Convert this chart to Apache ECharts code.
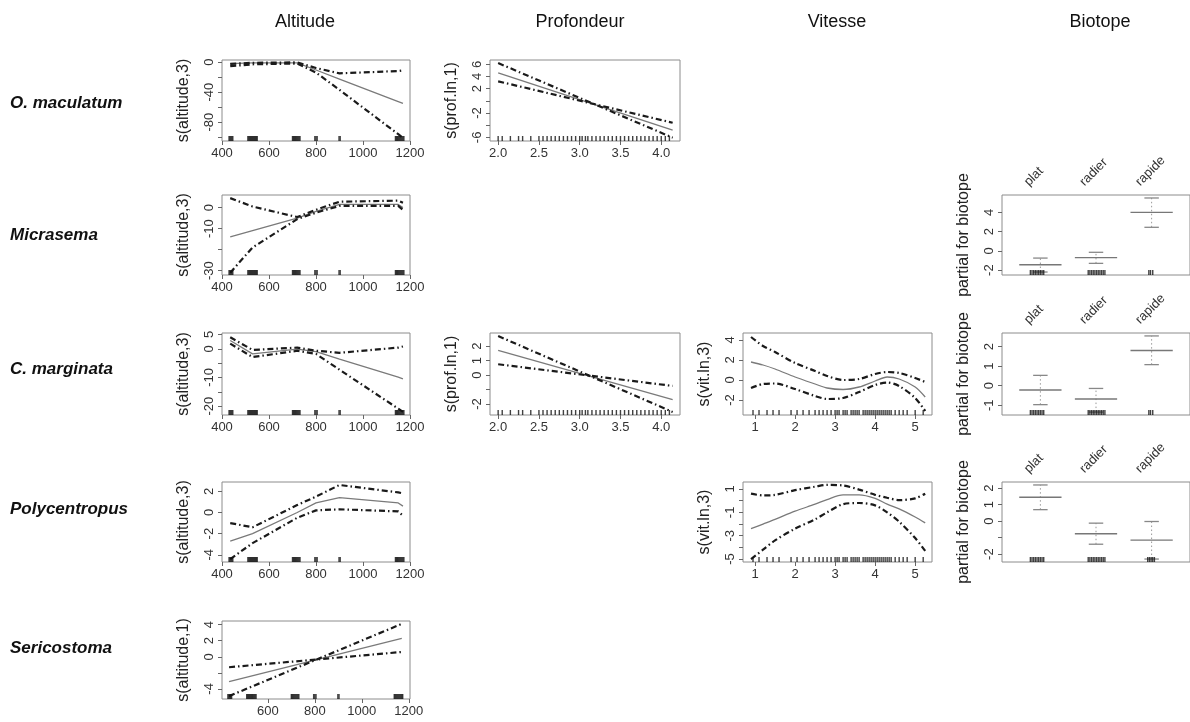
<!DOCTYPE html>
<html><head><meta charset="utf-8">
<script src="https://cdn.jsdelivr.net/npm/echarts@6/dist/echarts.min.js"></script>
<style>html,body{margin:0;padding:0;background:#fff}#c{width:1190px;height:722px}</style>
</head><body><div id="c"></div>
<script>
// ---------------- DATA ----------------
const COLUMN_TITLES = ['Altitude', 'Profondeur', 'Vitesse', 'Biotope'];
const TAXA = ['O. maculatum', 'Micrasema', 'C. marginata', 'Polycentropus', 'Sericostoma'];

const ALT_X = [435, 530, 720, 800, 900, 1150, 1170];
const ALT_LIN_X = [435, 1170];
const PROF_X = [2.0, 4.14];
const VIT_X = [0.9, 1.2, 1.5, 2.0, 2.5, 2.8, 3.2, 3.6, 4.0, 4.3, 4.6, 5.0, 5.25];
const BIOTOPE_LEVELS = ['plat', 'radier', 'rapide'];

const ALT_TICKS = [400, 600, 800, 1000, 1200];
const ALT_TICKS_SERI = [600, 800, 1000, 1200];
const PROF_TICKS = [2.0, 2.5, 3.0, 3.5, 4.0];
const VIT_TICKS = [1, 2, 3, 4, 5];

// rug (observed covariate values)
const ALT_RUG = [430, 434, 438, 442, 446, 510, 514, 518, 522, 526, 530, 534, 538, 542, 546, 550, 700, 704, 708, 712, 716, 720, 724, 728, 732, 795, 800, 805, 898, 903, 1138, 1142, 1146, 1150, 1154, 1158, 1162, 1166, 1170, 1174];
const PROF_RUG = [2.0, 2.05, 2.15, 2.25, 2.3, 2.4, 2.5, 2.55, 2.6, 2.65, 2.7, 2.75, 2.8, 2.85, 2.9, 2.95, 3.0, 3.03, 3.07, 3.1, 3.15, 3.2, 3.25, 3.3, 3.35, 3.4, 3.45, 3.5, 3.55, 3.6, 3.65, 3.7, 3.75, 3.8, 3.85, 3.9, 3.95, 4.0, 4.05, 4.1];
const VIT_RUG = [0.95, 1.1, 1.3, 1.45, 1.6, 1.9, 2.05, 2.2, 2.35, 2.5, 2.6, 2.7, 2.8, 2.9, 3.0, 3.05, 3.1, 3.2, 3.25, 3.3, 3.4, 3.45, 3.5, 3.55, 3.6, 3.7, 3.75, 3.8, 3.85, 3.9, 3.95, 4.0, 4.05, 4.1, 4.15, 4.2, 4.25, 4.3, 4.35, 4.4, 4.5, 4.6, 4.7, 4.8, 5.0, 5.2];
const BIO_RUG_PLAT = [0.82, 0.85, 0.88, 0.91, 0.94, 0.97, 1.0, 1.03, 1.06];
const BIO_RUG_RADIER = [1.86, 1.89, 1.92, 1.95, 1.98, 2.01, 2.04, 2.07, 2.1, 2.13, 2.16];
const BIO_RUG_RAPIDE = [2.95, 2.98, 3.02];
const BIO_RUG_RAPIDE_POLY = [2.93, 2.96, 2.99, 3.02, 3.05];

// O. maculatum
const omacAltFit = [-2, -1, -1, -10.6, -22.6, -52.6, -55];
const omacAltUpper = [-2.5, -1, -0.5, -8, -15, -12, -11];
const omacAltLower = [-5.5, -3, -2, -14, -37, -96, -101];
const omacProfFit = [4.6, -4.8];
const omacProfCiA = [6.2, -6.05];
const omacProfCiB = [3.2, -3.6];

// Micrasema
const micrAltFit = [-14, -11, -5, -1.8, 1.5, 1.5, 0];
const micrAltUpper = [4.5, 0.5, -4.5, -1, 2.8, 3.3, 2.3];
const micrAltLower = [-31, -19, -5.5, -2.4, 0.8, 0.8, -1.1];
const micrBioFit = [-1.45, -0.7, 4.0];
const micrBioLower = [-2.2, -1.3, 2.45];
const micrBioUpper = [-0.75, -0.15, 5.5];

// C. marginata
const cmarAltFit = [2.9, -1.8, -0.1, -1, -3.6, -9.9, -10.5];
const cmarAltUpper = [4, -0.4, 0.4, -0.7, -1.4, 0.4, 0.8];
const cmarAltLower = [1.8, -2.9, -0.7, -1.8, -7.3, -20.9, -22];
const cmarProfFit = [1.7, -1.7];
const cmarProfCiA = [2.7, -2.55];
const cmarProfCiB = [0.75, -0.75];
const cmarVitFit = [1.8, 1.5, 1.1, 0.3, -0.4, -0.8, -0.95, -0.7, -0.1, 0.3, 0.1, -0.7, -1.7];
const cmarVitUpper = [4.3, 3.4, 2.8, 1.7, 0.9, 0.4, 0.0, 0.1, 0.6, 0.8, 0.7, 0.2, -0.2];
const cmarVitLower = [-0.8, -0.4, -0.35, -0.9, -1.6, -1.9, -1.8, -1.2, -0.5, -0.25, -0.6, -1.8, -3.1];
const cmarBioFit = [-0.22, -0.68, 1.8];
const cmarBioLower = [-0.97, -1.35, 1.08];
const cmarBioUpper = [0.53, -0.14, 2.55];

// Polycentropus
const polyAltFit = [-2.7, -2.0, 0.0, 0.9, 1.4, 0.9, 0.6];
const polyAltUpper = [-1.0, -1.4, 0.7, 1.5, 2.6, 1.9, 1.8];
const polyAltLower = [-4.4, -2.9, -0.5, 0.2, 0.3, 0.1, -0.3];
const polyVitFit = [-2.4, -2.0, -1.6, -0.9, -0.3, 0.1, 0.5, 0.5, 0.2, -0.3, -0.7, -1.4, -1.9];
const polyVitUpper = [0.6, 0.45, 0.5, 0.9, 1.2, 1.35, 1.3, 0.95, 0.5, 0.25, 0.05, 0.2, 0.6];
const polyVitLower = [-5.0, -4.2, -3.4, -2.4, -1.6, -1.0, -0.3, -0.2, -0.4, -1.0, -1.8, -3.2, -4.3];
const polyBioFit = [1.45, -0.76, -1.15];
const polyBioLower = [0.7, -1.4, -2.3];
const polyBioUpper = [2.2, -0.12, -0.02];

// Sericostoma
const seriAltFit = [-3.1, 2.3];
const seriAltCiA = [-4.9, 4.1];
const seriAltCiB = [-1.3, 0.6];

// ---------------- STYLE / LAYOUT ----------------
const FONT = 'Liberation Sans, Arial, Helvetica, sans-serif';
const COLS = {alt: [222, 188], prof: [490, 190], vit: [743, 189], bio: [1002, 209]};
const ROWS = [[60, 81], [195, 80], [333, 82], [482, 80], [621, 78]];
const TITLE_X = [305, 580, 837, 1100];
const ROW_LABEL_Y = [103, 235, 369, 509, 648];
const FIT_STYLE = {color: '#7a7a7a', width: 1.3, type: 'solid'};
const CI_STYLE = {color: '#1a1a1a', width: 2.2, type: [6, 3, 1.5, 3]};

const grids = [], xAxes = [], yAxes = [], series = [];
const zip = (xs, ys) => xs.map((x, k) => [x, ys[k]]);

function addPanel(p) {
  const i = grids.length;
  const c = COLS[p.col], r = ROWS[p.row];
  grids.push({left: c[0], top: r[0], width: c[1], height: r[1], show: true,
    borderColor: '#8c8c8c', borderWidth: 1, backgroundColor: 'transparent'});
  xAxes.push({gridIndex: i, type: 'value', min: p.xmin, max: p.xmax,
    position: p.bio ? 'top' : 'bottom',
    axisLine: {show: false, onZero: false}, splitLine: {show: false},
    axisTick: {show: !p.bio, inside: false, length: 4, lineStyle: {color: '#666'}, customValues: p.xTicks},
    axisLabel: {show: !p.bio, customValues: p.xTicks, formatter: p.xFmt, fontSize: 13, color: '#333', fontFamily: FONT, margin: 6}
  });
  yAxes.push({gridIndex: i, type: 'value', min: p.ymin, max: p.ymax,
    name: p.yName, nameLocation: 'middle', nameGap: 30, nameRotate: 90,
    nameTextStyle: {fontSize: 16, color: '#222', fontFamily: FONT},
    axisLine: {show: false, onZero: false}, splitLine: {show: false},
    axisTick: {show: true, inside: false, length: 4, lineStyle: {color: '#666'}, customValues: p.yTicks},
    axisLabel: {show: true, customValues: p.yLabels, rotate: 90, fontSize: 13, color: '#333', fontFamily: FONT, margin: 6,
      formatter: v => String(v)}
  });
  (p.lines || []).forEach(l => {
    series.push({type: 'line', xAxisIndex: i, yAxisIndex: i, data: zip(l.x, l.y), symbol: 'none',
      smooth: l.smooth || false, lineStyle: l.style, silent: true, animation: false, clip: true, z: l.z || 2});
  });
  (p.rugs || []).forEach(rug => {
    series.push({type: 'scatter', xAxisIndex: i, yAxisIndex: i, data: rug.map(v => [v, p.ymin]),
      symbol: 'rect', symbolSize: [1.4, 5], symbolOffset: [0, -2.5], itemStyle: {color: '#111'},
      silent: true, animation: false, clip: false, z: 3});
  });
  if (p.bio) {
    const b = p.bio;
    series.push({type: 'custom', xAxisIndex: i, yAxisIndex: i, silent: true, animation: false, clip: false,
      data: BIOTOPE_LEVELS.map((l, k) => [k + 1, b.fit[k], b.lower[k], b.upper[k]]),
      renderItem: (params, api) => {
        const idx = params.dataIndex;
        const lv = api.value(0);
        const c0 = api.coord([lv, api.value(1)]);
        const cl = api.coord([lv, api.value(2)]);
        const ch = api.coord([lv, api.value(3)]);
        const top = api.coord([lv, p.ymax]);
        const hf = api.size([0.38, 0])[0], hc = api.size([0.13, 0])[0];
        return {type: 'group', children: [
          {type: 'line', shape: {x1: cl[0], y1: cl[1], x2: ch[0], y2: ch[1]}, style: {stroke: '#999', lineWidth: 1, lineDash: [1.5, 2.5]}},
          {type: 'line', shape: {x1: ch[0] - hc, y1: ch[1], x2: ch[0] + hc, y2: ch[1]}, style: {stroke: '#888', lineWidth: 1.3}},
          {type: 'line', shape: {x1: cl[0] - hc, y1: cl[1], x2: cl[0] + hc, y2: cl[1]}, style: {stroke: '#888', lineWidth: 1.3}},
          {type: 'line', shape: {x1: c0[0] - hf, y1: c0[1], x2: c0[0] + hf, y2: c0[1]}, style: {stroke: '#777', lineWidth: 1.4}},
          {type: 'text', x: top[0] - 14, y: top[1] - 11, rotation: Math.PI / 4,
            style: {text: BIOTOPE_LEVELS[idx], fontSize: 13, fontFamily: FONT, fill: '#333', align: 'left', verticalAlign: 'middle'}}
        ]};
      }});
  }
}

const fmtInt = v => String(v);
const fmt1 = v => v.toFixed(1);
const altBase = {col: 'alt', xmin: 400, xmax: 1200, xTicks: ALT_TICKS, xFmt: fmtInt, rugs: [ALT_RUG]};
const profBase = {col: 'prof', xmin: 1.9, xmax: 4.23, xTicks: PROF_TICKS, xFmt: fmt1, yName: 's(prof.ln,1)', rugs: [PROF_RUG]};
const vitBase = {col: 'vit', xmin: 0.7, xmax: 5.42, xTicks: VIT_TICKS, xFmt: fmtInt, yName: 's(vit.ln,3)', rugs: [VIT_RUG]};
const bioBase = {col: 'bio', xmin: 0.31, xmax: 3.69, xTicks: [], xFmt: fmtInt, yName: 'partial for biotope'};
const curves = (x, fit, up, lo) => [
  {x, y: fit, style: FIT_STYLE}, {x, y: up, style: CI_STYLE}, {x, y: lo, style: CI_STYLE}];

// Row 1: O. maculatum
addPanel(Object.assign({}, altBase, {row: 0, ymin: -105, ymax: 2.7, yName: 's(altitude,3)',
  yTicks: [-100, -80, -60, -40, -20, 0], yLabels: [-80, -40, 0],
  lines: curves(ALT_X, omacAltFit, omacAltUpper, omacAltLower)}));
addPanel(Object.assign({}, profBase, {row: 0, ymin: -6.6, ymax: 6.7,
  yTicks: [-6, -4, -2, 0, 2, 4, 6], yLabels: [-6, -2, 2, 4, 6],
  lines: curves(PROF_X, omacProfFit, omacProfCiA, omacProfCiB)}));
// Row 2: Micrasema
addPanel(Object.assign({}, altBase, {row: 1, ymin: -32.1, ymax: 6.0, yName: 's(altitude,3)',
  yTicks: [-30, -20, -10, 0], yLabels: [-30, -10, 0],
  lines: curves(ALT_X, micrAltFit, micrAltUpper, micrAltLower)}));
addPanel(Object.assign({}, bioBase, {row: 1, ymin: -2.51, ymax: 5.81,
  yTicks: [-2, 0, 2, 4], yLabels: [-2, 0, 2, 4],
  rugs: [BIO_RUG_PLAT, BIO_RUG_RADIER, BIO_RUG_RAPIDE],
  bio: {fit: micrBioFit, lower: micrBioLower, upper: micrBioUpper}}));
// Row 3: C. marginata
addPanel(Object.assign({}, altBase, {row: 2, ymin: -23.1, ymax: 5.5, yName: 's(altitude,3)',
  yTicks: [-20, -15, -10, -5, 0, 5], yLabels: [-20, -10, 0, 5],
  lines: curves(ALT_X, cmarAltFit, cmarAltUpper, cmarAltLower)}));
addPanel(Object.assign({}, profBase, {row: 2, ymin: -2.76, ymax: 2.91,
  yTicks: [-2, -1, 0, 1, 2], yLabels: [-2, 0, 1, 2],
  lines: curves(PROF_X, cmarProfFit, cmarProfCiA, cmarProfCiB)}));
addPanel(Object.assign({}, vitBase, {row: 2, ymin: -3.5, ymax: 4.7,
  yTicks: [-2, 0, 2, 4], yLabels: [-2, 0, 2, 4],
  lines: curves(VIT_X, cmarVitFit, cmarVitUpper, cmarVitLower).map(l => Object.assign(l, {smooth: 0.3}))}));
addPanel(Object.assign({}, bioBase, {row: 2, ymin: -1.5, ymax: 2.7,
  yTicks: [-1, 0, 1, 2], yLabels: [-1, 0, 1, 2],
  rugs: [BIO_RUG_PLAT, BIO_RUG_RADIER, BIO_RUG_RAPIDE],
  bio: {fit: cmarBioFit, lower: cmarBioLower, upper: cmarBioUpper}}));
// Row 4: Polycentropus
addPanel(Object.assign({}, altBase, {row: 3, ymin: -4.68, ymax: 2.88, yName: 's(altitude,3)',
  yTicks: [-4, -2, 0, 2], yLabels: [-4, -2, 0, 2],
  lines: curves(ALT_X, polyAltFit, polyAltUpper, polyAltLower)}));
addPanel(Object.assign({}, vitBase, {row: 3, ymin: -5.25, ymax: 1.6,
  yTicks: [-5, -4, -3, -2, -1, 0, 1], yLabels: [-5, -3, -1, 1],
  lines: curves(VIT_X, polyVitFit, polyVitUpper, polyVitLower).map(l => Object.assign(l, {smooth: 0.3}))}));
addPanel(Object.assign({}, bioBase, {row: 3, ymin: -2.48, ymax: 2.38,
  yTicks: [-2, -1, 0, 1, 2], yLabels: [-2, 0, 1, 2],
  rugs: [BIO_RUG_PLAT, BIO_RUG_RADIER, BIO_RUG_RAPIDE_POLY],
  bio: {fit: polyBioFit, lower: polyBioLower, upper: polyBioUpper}}));
// Row 5: Sericostoma
addPanel(Object.assign({}, altBase, {row: 4, xmin: 405, xmax: 1205, xTicks: ALT_TICKS_SERI,
  ymin: -5.26, ymax: 4.46, yName: 's(altitude,1)',
  yTicks: [-4, -2, 0, 2, 4], yLabels: [-4, 0, 2, 4],
  lines: curves(ALT_LIN_X, seriAltFit, seriAltCiA, seriAltCiB)}));

const graphic = [];
COLUMN_TITLES.forEach((t, k) => graphic.push({type: 'text', x: TITLE_X[k], y: 22,
  style: {text: t, fontSize: 18, fontFamily: FONT, fill: '#111', align: 'center', verticalAlign: 'middle'}}));
TAXA.forEach((t, k) => graphic.push({type: 'text', x: 10, y: ROW_LABEL_Y[k],
  style: {text: t, fontSize: 17, fontStyle: 'italic', fontWeight: 'bold', fontFamily: FONT, fill: '#111', align: 'left', verticalAlign: 'middle'}}));

const chart = echarts.init(document.getElementById('c'), null, {renderer: 'canvas'});
chart.setOption({backgroundColor: '#fff', animation: false, grid: grids, xAxis: xAxes, yAxis: yAxes, series, graphic});
</script></body></html>
